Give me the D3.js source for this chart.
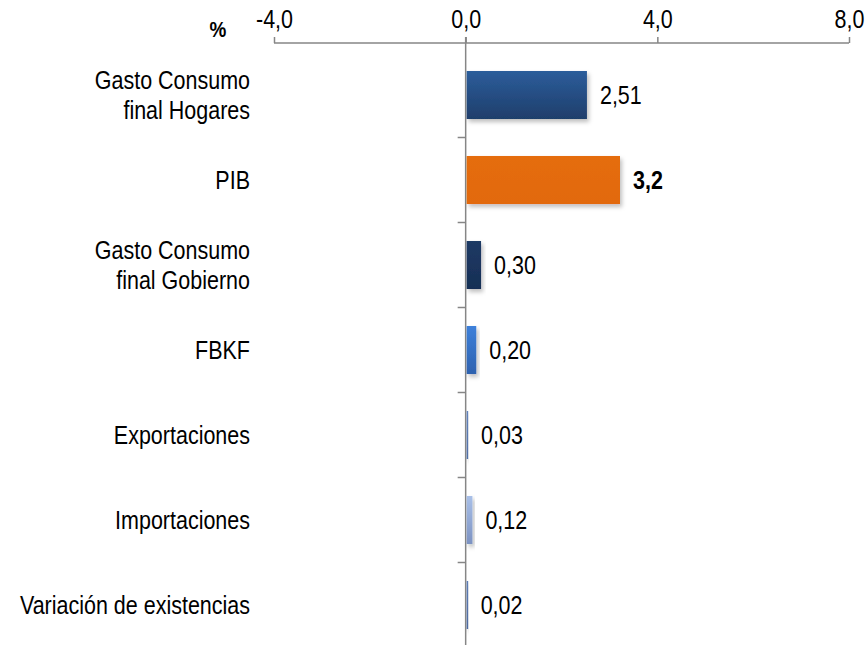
<html>
<head>
  <meta charset="utf-8">
  <script src="https://d3js.org/d3.v7.min.js"></script>
  <style>
    body { margin: 0; background: #fff; }
    text { font-family: "Liberation Sans", Arial, sans-serif; fill: #000; }
  </style>
</head>
<body>
<div id="chart"></div>
<script>
  // Data
  var categories = ["Gasto Consumo final Hogares", "PIB", "Gasto Consumo final Gobierno", "FBKF",
                    "Exportaciones", "Importaciones", "Variación de existencias"];
  var values = [2.51, 3.2, 0.30, 0.20, 0.03, 0.12, 0.02];
  var valueLabels = ["2,51", "3,2", "0,30", "0,20", "0,03", "0,12", "0,02"];
  var tickValues = [-4, 0, 4, 8];
  var tickLabels = ["-4,0", "0,0", "4,0", "8,0"];
  // top / bottom gradient colours for each bar
  var barTop = ["#2c5d9b", "#e56d0b", "#1e3a65", "#3d80da", "#6283bd", "#a9c0e8", "#5c7cb6"];
  var barBottom = ["#1f3e6b", "#e2690a", "#172f55", "#2e62af", "#4f6ea6", "#7c92c2", "#4d6aa0"];

  var W = 866, H = 645;
  var FS = '25px';
  var NARROW = 'scale(0.86,1)';   // fake a narrow font, no Arial Narrow installed

  var svg = d3.select('#chart').append('svg')
      .attr('width', W).attr('height', H);

  var x = d3.scaleLinear().domain([-4, 8]).range([274, 849]);
  var y = d3.scaleBand().domain(categories)
      .range([52.5, 52.5 + 7 * 85])
      .paddingInner(0.435).paddingOuter(0.2175);

  var defs = svg.append('defs');
  var shadow = defs.append('filter').attr('id', 'shadow')
      .attr('x', '-20%').attr('y', '-20%').attr('width', '150%').attr('height', '150%');
  shadow.append('feDropShadow')
      .attr('dx', 2).attr('dy', 3).attr('stdDeviation', 2)
      .attr('flood-color', '#000').attr('flood-opacity', 0.25);

  categories.forEach(function(c, i) {
    var g = defs.append('linearGradient').attr('id', 'grad' + i)
        .attr('x1', 0).attr('y1', 0).attr('x2', 0).attr('y2', 1);
    g.append('stop').attr('offset', '0%').attr('stop-color', barTop[i]);
    g.append('stop').attr('offset', '100%').attr('stop-color', barBottom[i]);
  });

  // Top axis
  var xAxis = d3.axisTop(x).tickValues(tickValues)
      .tickFormat(function(d, i) { return tickLabels[i]; })
      .tickSize(6).tickPadding(9);

  var gx = svg.append('g')
      .attr('transform', 'translate(0,43)')
      .call(xAxis);
  gx.select('.domain').attr('stroke', '#868686').attr('stroke-width', 1.5)
      .attr('d', 'M' + x(-4) + ',0H' + x(8));
  gx.selectAll('.tick line').attr('stroke', '#868686').attr('stroke-width', 1.5);
  gx.selectAll('.tick text')
      .style('font-size', FS).attr('fill', '#000')
      .attr('font-family', null)
      .attr('transform', NARROW);

  svg.append('text')
      .attr('transform', 'translate(218,37) ' + NARROW)
      .attr('text-anchor', 'middle')
      .style('font-size', '22px').style('font-weight', 'bold')
      .text('%');

  // Vertical category axis at zero
  var yAxis = d3.axisLeft(y).tickSize(0).tickFormat('');
  var gy = svg.append('g')
      .attr('transform', 'translate(' + x(0) + ',0)')
      .call(yAxis);
  gy.select('.domain').attr('stroke', '#868686').attr('stroke-width', 1.5)
      .attr('d', 'M0,37V' + H);

  // category separator ticks
  gy.selectAll('line.sep')
      .data(categories.slice(1))
      .enter().append('line')
      .attr('class', 'sep')
      .attr('x1', -8).attr('x2', 0)
      .attr('y1', function(d) { return y(d) - y.step() * y.paddingInner() / 2; })
      .attr('y2', function(d) { return y(d) - y.step() * y.paddingInner() / 2; })
      .attr('stroke', '#868686').attr('stroke-width', 1.5);

  // bars
  svg.selectAll('rect.bar')
      .data(categories)
      .enter().append('rect')
      .attr('class', 'bar')
      .attr('x', function(d, i) { return x(Math.min(0, values[i])) + 1; })
      .attr('y', function(d) { return y(d); })
      .attr('width', function(d, i) { return Math.max(1.5, Math.abs(x(values[i]) - x(0))); })
      .attr('height', y.bandwidth())
      .attr('fill', function(d, i) { return 'url(#grad' + i + ')'; })
      .attr('filter', 'url(#shadow)');

  // value labels
  svg.selectAll('text.val')
      .data(categories)
      .enter().append('text')
      .attr('class', 'val')
      .attr('transform', function(d, i) {
        return 'translate(' + (x(values[i]) + 14) + ',' + (y(d) + y.bandwidth() / 2) + ') ' + NARROW;
      })
      .attr('dy', '0.35em')
      .style('font-size', FS)
      .style('font-weight', function(d, i) { return categories[i] === 'PIB' ? 'bold' : 'normal'; })
      .text(function(d, i) { return valueLabels[i]; });

  // category labels (wrapped like the original)
  var wrapped = {
    "Gasto Consumo final Hogares": ["Gasto Consumo", "final Hogares"],
    "Gasto Consumo final Gobierno": ["Gasto Consumo", "final Gobierno"]
  };
  categories.forEach(function(c) {
    var lines = wrapped[c] || [c];
    var t = svg.append('text')
        .attr('text-anchor', 'end')
        .attr('transform', 'translate(250,' + (y(c) + y.bandwidth() / 2) + ') ' + NARROW)
        .style('font-size', FS);
    lines.forEach(function(l, j) {
      t.append('tspan')
        .attr('x', 0)
        .attr('dy', j === 0 ? (0.35 - (lines.length - 1) * 0.6) + 'em' : '1.2em')
        .text(l);
    });
  });
</script>
</body>
</html>
